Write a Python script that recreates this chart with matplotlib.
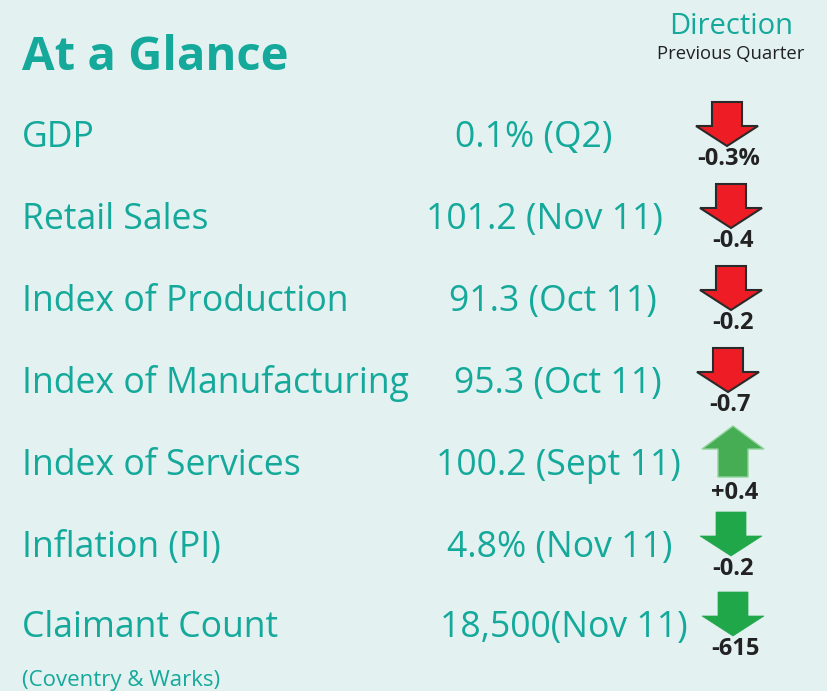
import matplotlib.pyplot as plt
from matplotlib.patches import Polygon

# data
indicators = ["GDP", "Retail Sales", "Index of Production", "Index of Manufacturing",
              "Index of Services", "Inflation (PI)", "Claimant Count"]
values = ["0.1% (Q2)", "101.2 (Nov 11)", "91.3 (Oct 11)", "95.3 (Oct 11)",
          "100.2 (Sept 11)", "4.8% (Nov 11)", "18,500(Nov 11)"]
changes = ["-0.3%", "-0.4", "-0.2", "-0.7", "+0.4", "-0.2", "-615"]
direction = ["down", "down", "down", "down", "up", "down", "down"]
good_news = [False, False, False, False, True, True, True]

# layout (pixels)
W, H = 827, 691
row_base = [147, 229, 311, 393, 475, 557, 637]
value_cx = [534, 544, 553, 558, 558, 560, 564]
arrow_cx = [727, 731, 731, 728, 733, 731, 733]

teal = "#14A99A"
bg = "#E3F1F1"
font = "Open Sans"

fig = plt.figure(figsize=(W / 100, H / 100), dpi=100)
fig.patch.set_facecolor(bg)
ax = fig.add_axes([0, 0, 1, 1])
ax.set_xlim(0, W)
ax.set_ylim(H, 0)
ax.axis("off")

ax.text(22, 70, "At a Glance", color=teal, fontsize=34, fontweight="bold",
        family=font, va="baseline", ha="left")
ax.text(731, 34, "Direction", color=teal, fontsize=21, family=font, ha="center", va="baseline")
ax.text(731, 59, "Previous Quarter", color="#222222", fontsize=13.3, family=font,
        ha="center", va="baseline")

for i, name in enumerate(indicators):
    y = row_base[i]
    ax.text(22, y, name, color=teal, fontsize=25.6, family=font, va="baseline", ha="left")
    ax.text(value_cx[i], y, values[i], color=teal, fontsize=25.6, family=font,
            va="baseline", ha="center")

    cx = arrow_cx[i]
    sw, hw, hl, total = 15, 31, 20, 44
    if direction[i] == "down":
        top = y - 45
        pts = [(cx - sw, top), (cx + sw, top), (cx + sw, top + total - hl),
               (cx + hw, top + total - hl), (cx, top + total),
               (cx - hw, top + total - hl), (cx - sw, top + total - hl)]
        lab_y = top + total + 19
    else:
        tip = y - 49
        pts = [(cx, tip), (cx + hw, tip + hl + 3), (cx + sw, tip + hl + 3),
               (cx + sw, tip + 51), (cx - sw, tip + 51), (cx - sw, tip + hl + 3),
               (cx - hw, tip + hl + 3)]
        lab_y = tip + 73
    if good_news[i] and direction[i] == "up":
        fc, ec, lw = "#46AD55", "#8FD39A", 1.0
    elif good_news[i]:
        fc, ec, lw = "#1FA74A", "#1FA74A", 0.5
    else:
        fc, ec, lw = "#EE1D25", "#2A2A2A", 1.5
    ax.add_patch(Polygon(pts, closed=True, facecolor=fc, edgecolor=ec, lw=lw, zorder=2))
    ax.text(cx + 2, lab_y, changes[i], color="#222222", fontsize=17, fontweight="bold",
            family=font, ha="center", va="baseline", zorder=3)

ax.text(22, 686, "(Coventry & Warks)", color=teal, fontsize=16, family=font,
        va="baseline", ha="left")

fig.savefig("out.png", dpi=100, facecolor=bg)
